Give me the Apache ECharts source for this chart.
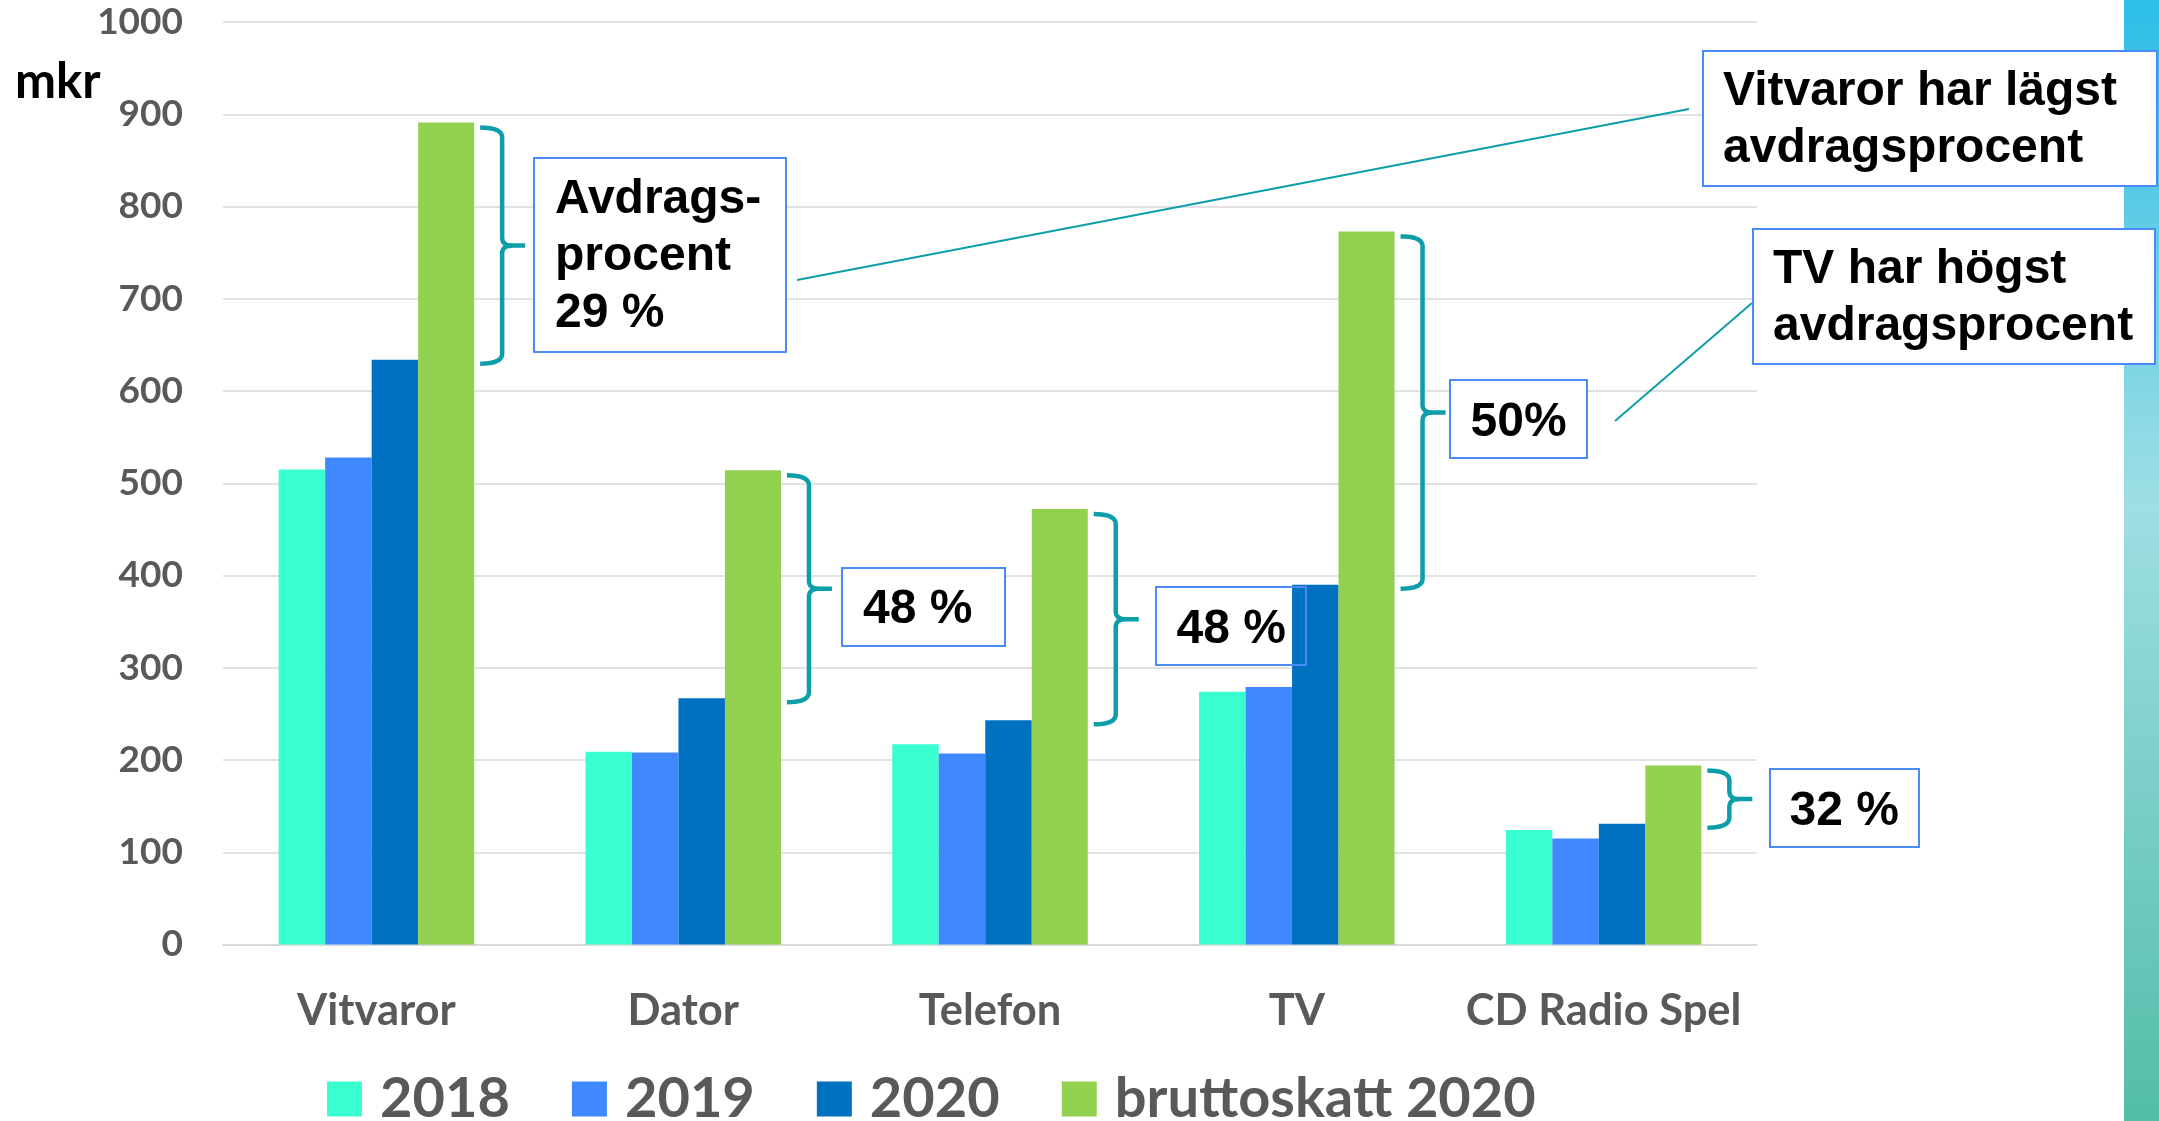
<!DOCTYPE html>
<html><head><meta charset="utf-8">
<script src="https://cdn.jsdelivr.net/npm/echarts@6/dist/echarts.min.js"></script>
<style>html,body{margin:0;padding:0;background:#fff}#c{width:2159px;height:1121px}</style>
</head><body><div id="c"></div>
<script>
// ---- data ----
const categories = ['Vitvaror', 'Dator', 'Telefon', 'TV', 'CD Radio Spel'];
const v2018 = [515, 209, 217, 274, 124];
const v2019 = [528, 208, 207, 279, 115];
const v2020 = [634, 267, 243, 390, 131];
const gross2020 = [891, 514, 472, 773, 194];
const seriesNames = ['2018', '2019', '2020', 'bruttoskatt 2020'];
const yMin = 0, yMax = 1000, yStep = 100;
const unitLabel = 'mkr';
const percentTexts = ['Avdrags-\nprocent\n29 %', '48 %', '48 %', '50%', '32 %'];
const noteLow = 'Vitvaror har lägst\navdragsprocent';
const noteHigh = 'TV har högst\navdragsprocent';

// ---- styles ----
const colors = ['#3AFFD0', '#3F88FF', '#0070C0', '#92D050'];
const barWidths = [46.5, 46.5, 46.5, 56];
const teal = '#0E9EAA';
const boxBlue = '#4A8BFA';
const axisFont = 'Lato';
const noteFont = 'bold 48px "Liberation Sans", Arial, sans-serif';

const chart = echarts.init(document.getElementById('c'), null, {renderer: 'canvas'});
const values = [v2018, v2019, v2020, gross2020];

const option = {
  animation: false,
  backgroundColor: '#fff',
  grid: {left: 223, right: 402, top: 22, bottom: 176.5, containLabel: false},
  legend: {
    data: seriesNames,
    left: 322, top: 1066,
    icon: 'rect', itemWidth: 35, itemHeight: 35, itemGap: 62,
    textStyle: {fontFamily: axisFont, fontWeight: 'bold', fontSize: 56, color: '#595959', padding: [0, 0, 0, 13]}
  },
  xAxis: {
    type: 'category', data: categories,
    axisTick: {show: false},
    axisLine: {lineStyle: {color: '#D9D9D9', width: 2}},
    axisLabel: {interval: 0, margin: 44, fontFamily: axisFont, fontWeight: 'bold', fontSize: 43.5, color: '#595959'}
  },
  yAxis: {
    type: 'value', min: yMin, max: yMax, interval: yStep,
    axisLine: {show: false}, axisTick: {show: false},
    splitLine: {lineStyle: {color: '#D9D9D9', width: 1.5}},
    axisLabel: {margin: 40, fontFamily: axisFont, fontWeight: 'bold', fontSize: 37, color: '#595959',
      formatter: v => String(v)}
  },
  series: seriesNames.map((n, i) => ({
    name: n, type: 'bar', data: values[i], barWidth: barWidths[i], barGap: '0%',
    itemStyle: {color: colors[i]}, z: 2
  }))
};
chart.setOption(option);

// ---- annotations anchored to the data ----
function px(ci, v) { return chart.convertToPixel({gridIndex: 0}, [ci, v]); }
const groupWidth = barWidths.reduce((a, b) => a + b, 0);

function quad(pts, p0, c, p1) {
  for (let k = 1; k <= 10; k++) {
    const t = k / 10, u = 1 - t;
    pts.push([u * u * p0[0] + 2 * u * t * c[0] + t * t * p1[0], u * u * p0[1] + 2 * u * t * c[1] + t * t * p1[1]]);
  }
}
function braceHalves(x0, x1, x2, yT, yB) {
  const yM = (yT + yB) / 2, r = 10;
  const a = [[x0, yT]];
  quad(a, [x0, yT], [x1, yT], [x1, yT + r]);
  a.push([x1, yM - 8]);
  quad(a, [x1, yM - 8], [x1, yM], [x1 + 10, yM]);
  a.push([x2, yM]);
  const b = [[x1 + 10, yM]];
  quad(b, [x1 + 10, yM], [x1, yM], [x1, yM + 8]);
  b.push([x1, yB - r]);
  quad(b, [x1, yB - r], [x1, yB], [x0, yB]);
  return [a, b];
}

const g = [];
// gradient strip on the right
g.push({type: 'rect', z: 0, shape: {x: 2124, y: 0, width: 35, height: 1121},
  style: {fill: {type: 'linear', x: 0, y: 0, x2: 0, y2: 1, colorStops: [
    {offset: 0, color: '#2DBEE8'}, {offset: 0.45, color: '#9EDEE4'}, {offset: 1, color: '#52BDA7'}]}}});

categories.forEach((c, i) => {
  const top = px(i, gross2020[i]);
  const bot = px(i, v2020[i]);
  const xr = top[0] + groupWidth / 2;
  braceHalves(xr + 6, xr + 28, xr + 51, top[1] + 5, bot[1] + 4).forEach(pts => {
    g.push({type: 'polyline', z: 50, shape: {points: pts},
      style: {fill: null, stroke: teal, lineWidth: 4.5, lineJoin: 'round', lineCap: 'butt'}});
  });
});

// boxes: [x, y, w, h, textX, textY, text, valign]
const boxes = [
  [534, 158, 252, 194, 555, 171.5, percentTexts[0], 'top'],
  [842, 568, 163, 78, 863, 610, percentTexts[1], 'middle'],
  [1156, 587, 150, 78, 1176.5, 629.5, percentTexts[2], 'middle'],
  [1450, 380, 137, 78, 1470.5, 422.5, percentTexts[3], 'middle'],
  [1770, 769, 149, 78, 1789.5, 811.5, percentTexts[4], 'middle'],
  [1703, 51, 454, 135, 1723, 63.5, noteLow, 'top'],
  [1753, 229, 402, 135, 1773, 241.5, noteHigh, 'top']
];
boxes.forEach(b => {
  g.push({type: 'rect', z: 1, shape: {x: b[0], y: b[1], width: b[2], height: b[3]}, style: {fill: '#fff'}});
  g.push({type: 'rect', z: 60, shape: {x: b[0], y: b[1], width: b[2], height: b[3]}, style: {fill: null, stroke: boxBlue, lineWidth: 2}});
  g.push({type: 'text', z: 61, x: b[4], y: b[5], style: {text: b[6], font: noteFont, fill: '#000', lineHeight: 57, align: 'left', verticalAlign: b[7]}});
});

// connector lines
g.push({type: 'line', z: 55, shape: {x1: 797, y1: 280, x2: 1689, y2: 109}, style: {stroke: teal, lineWidth: 2}});
g.push({type: 'line', z: 55, shape: {x1: 1615, y1: 421, x2: 1752, y2: 303}, style: {stroke: teal, lineWidth: 2}});

// unit label
g.push({type: 'text', z: 61, x: 15, y: 82, style: {text: unitLabel, font: 'bold 49px Lato, sans-serif', fill: '#000', align: 'left', verticalAlign: 'middle'}});

chart.setOption({graphic: {elements: g}});
</script>
</body></html>
